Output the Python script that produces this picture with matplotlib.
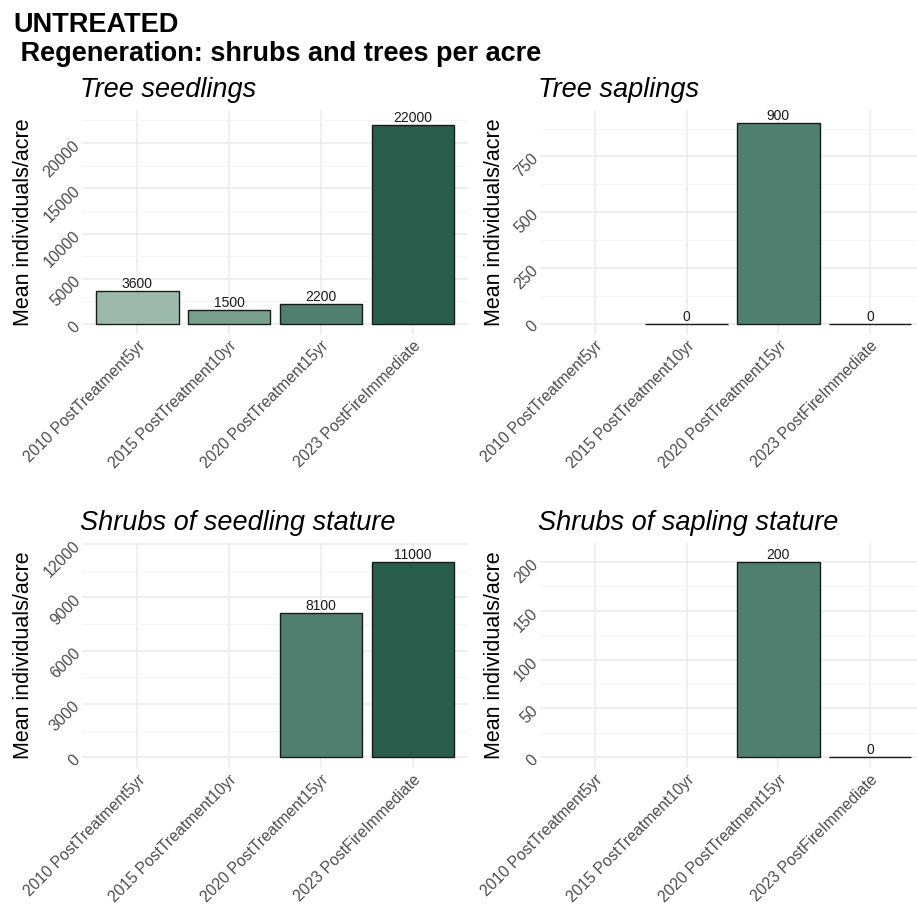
import numpy as np
import matplotlib
matplotlib.use('Agg')
import matplotlib.pyplot as plt
from matplotlib.ticker import MultipleLocator

plt.rcParams['font.family'] = ['Liberation Sans', 'DejaVu Sans']

categories = ['2010 PostTreatment5yr', '2015 PostTreatment10yr',
              '2020 PostTreatment15yr', '2023 PostFireImmediate']
bar_colors = ['#9DBAAE', '#79A08F', '#4F7F6F', '#285C4B']

# nan = no data for that survey
tree_seedlings = [3600, 1500, 2200, 22000]
tree_saplings = [np.nan, 0, 900, 0]
shrub_seedling = [np.nan, np.nan, 8100, 11000]
shrub_sapling = [np.nan, np.nan, 200, 0]

W, H = 917, 907
fig = plt.figure(figsize=(W / 100, H / 100), dpi=100)


def px_axes(l, t, r, b):
    return fig.add_axes([l / W, 1 - b / H, (r - l) / W, (b - t) / H])


panels = [
    ('Tree seedlings', tree_seedlings, (82, 110, 468, 334), (-1100, 23650), 5000),
    ('Tree saplings', tree_saplings, (540, 110, 925, 334), (-45, 958), 250),
    ('Shrubs of seedling stature', shrub_seedling, (82, 543, 468, 768), (-600, 12050), 3000),
    ('Shrubs of sapling stature', shrub_sapling, (540, 543, 925, 768), (-11, 219.5), 50),
]

for title, vals, box, ylim, step in panels:
    ax = px_axes(*box)
    x = np.arange(1, len(categories) + 1)
    for xi, v, c in zip(x, vals, bar_colors):
        if np.isnan(v):
            continue
        ax.bar(xi, v, width=0.9, color=c, edgecolor='#1a1a1a', linewidth=1.0, zorder=3)
        ax.text(xi, v, '%d' % v, ha='center', va='bottom', fontsize=10, color='#1a1a1a', zorder=4)
    ax.set_xlim(0.4, 4.6)
    ax.set_ylim(*ylim)
    ax.set_xticks(x)
    ax.set_xticklabels(categories, rotation=45, ha='right', va='top',
                       rotation_mode='anchor', fontsize=11.3, color='#4D4D4D')
    ax.yaxis.set_major_locator(MultipleLocator(step))
    ax.yaxis.set_minor_locator(MultipleLocator(step / 2))
    for lab in ax.get_yticklabels():
        lab.set_rotation(45)
        lab.set_ha('right')
        lab.set_va('center')
        lab.set_rotation_mode('anchor')
        lab.set_fontsize(11.5)
        lab.set_color('#4D4D4D')
    ax.tick_params(axis='both', which='both', length=0)
    ax.tick_params(axis='x', pad=3)
    ax.tick_params(axis='y', pad=3)
    ax.grid(True, which='major', color='#EBEBEB', linewidth=1.1, zorder=0)
    ax.grid(True, which='minor', axis='y', color='#F2F2F2', linewidth=0.6, zorder=0)
    for s in ax.spines.values():
        s.set_visible(False)
    ax.set_ylabel('Mean individuals/acre', fontsize=15.5, color='black', labelpad=5)
    l, t = box[0], box[1]
    fig.text((l - 2) / W, 1 - (t - 13) / H, title, fontsize=19.5, style='italic',
             ha='left', va='baseline')

fig.text(13 / W, 1 - 32 / H, 'UNTREATED', fontsize=19.5, fontweight='bold',
         ha='left', va='baseline')
fig.text(13 / W, 1 - 61 / H, ' Regeneration: shrubs and trees per acre', fontsize=19.5,
         fontweight='bold', ha='left', va='baseline')

fig.savefig('out.png', dpi=100, facecolor='white')
